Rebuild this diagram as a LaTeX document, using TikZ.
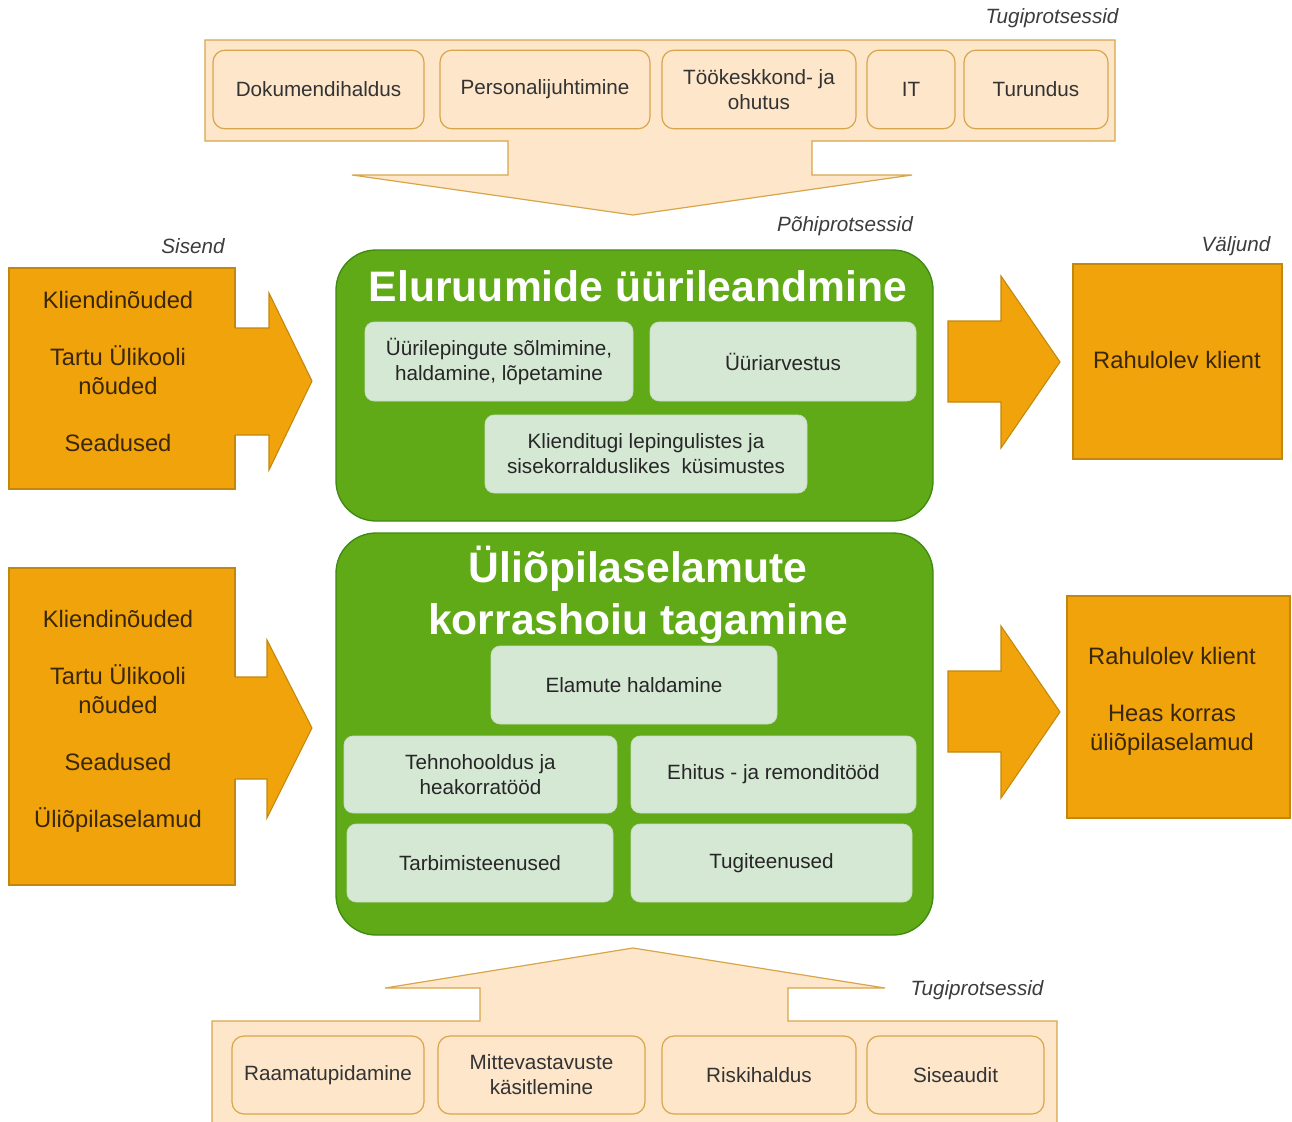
\documentclass[tikz,border=0pt]{standalone}
\usepackage{fontspec}
\setmainfont{Liberation Sans}
\usetikzlibrary{positioning,fit}

\definecolor{tugifill}{HTML}{FDE6C9}
\definecolor{tugirand}{HTML}{D8A64A}
\definecolor{orfill}{HTML}{F0A30A}
\definecolor{orrand}{HTML}{C4870E}
\definecolor{gruen}{HTML}{60A917}
\definecolor{gruenrand}{HTML}{3F8A12}
\definecolor{hellgruen}{HTML}{D5E8D4}
\definecolor{hellrand}{HTML}{C8DCC6}
\definecolor{orschrift}{HTML}{3A2608}
\definecolor{grau}{HTML}{3C3C3C}

\begin{document}
\begin{tikzpicture}[x=0.75pt,y=-0.75pt,
	tugi/.style={draw=tugirand,fill=tugifill,line width=0.9pt},
	tugibox/.style={draw=tugirand,fill=tugifill,rounded corners=9pt,inner sep=0pt,line width=0.9pt,
		minimum height=59pt,align=center,text=black!80,font=\fontsize{15.5}{18.75}\selectfont},
	orbox/.style={draw=orrand,fill=orfill,inner sep=0pt,line width=0.8pt},
	ortext/.style={align=center,text=orschrift,font=\fontsize{17.8}{21.75}\selectfont},
	prozess/.style={draw=gruenrand,fill=gruen,rounded corners=30pt,inner sep=0pt,line width=1pt},
	titel/.style={align=center,text=white,font=\bfseries\fontsize{32}{39}\selectfont},
	teil/.style={draw=hellrand,fill=hellgruen,rounded corners=7pt,inner sep=0pt,line width=0.6pt,
		minimum height=58.5pt,align=center,text=black!85,font=\fontsize{15.5}{18.75}\selectfont},
	etikett/.style={text=grau,font=\itshape\fontsize{15.5}{18}\selectfont}]

\useasboundingbox (0,0) rectangle (1292,1121);

%-------------------------------------------------------------------------------
% Tugiprotsessid - oben
%-------------------------------------------------------------------------------
\draw [tugi] (205,40) -- (1115,40) -- (1115,141) -- (812,141) -- (812,175) -- (912,175)
	-- (633,215) -- (352,175) -- (508,175) -- (508,141) -- (205,141) -- cycle;

\node (dokhaldus)	[tugibox, minimum width=158.25pt]	at (318.5,89.5)	{Dokumendihaldus};
\node (personal)	[tugibox, minimum width=157.5pt]	at (545,89.5)	{Personalijuhtimine};
\node (tookeskkond)	[tugibox, minimum width=145.5pt]	at (759,89.5)	{Töökeskkond- ja\\ohutus};
\node (it)		[tugibox, minimum width=66pt]		at (911,89.5)	{IT};
\node (turundus)	[tugibox, minimum width=108pt]		at (1036,89.5)	{Turundus};

\node (tugiobenlabel) [etikett] at (1052,18) {Tugiprotsessid};
\node (pohilabel) [etikett] at (845,226) {Põhiprotsessid};

%-------------------------------------------------------------------------------
% Eluruumide üürileandmine
%-------------------------------------------------------------------------------
\node (sisend1) [orbox, fit={(9,268) (235,489)}] {};
\node (sisend1text) [ortext] at (118,372) {Kliendinõuded\\[21pt]Tartu Ülikooli\\nõuded\\[21pt]Seadused};
\node (sisendlabel) [etikett] at (193,246) {Sisend};

\fill [orfill] (233,328) -- (269,328) -- (269,293) -- (312,381) -- (269,470) -- (269,435) -- (233,435) -- cycle;
\draw [orrand,line width=0.8pt] (235,328) -- (269,328) -- (269,293) -- (312,381) -- (269,470) -- (269,435) -- (235,435);

\node (eluruum) [prozess, fit={(336,250) (933,521)}] {};
\node (eluruumtitel) [titel] at (638,286) {Eluruumide üürileandmine};

\node (leping)		[teil, minimum width=201pt, minimum height=59.25pt]	at (499,361.5)	{Üürilepingute sõlmimine,\\haldamine, lõpetamine};
\node (arvestus)	[teil, minimum width=199.5pt, minimum height=59.25pt]	at (783,361.5)	{Üüriarvestus};
\node (klienditugi)	[teil, minimum width=241.5pt]				at (646,454)	{Klienditugi lepingulistes ja\\sisekorralduslikes\ \ küsimustes};

\draw [orrand,fill=orfill,line width=0.8pt] (948,321) -- (1001,321) -- (1001,276) -- (1060,362)
	-- (1001,448) -- (1001,402) -- (948,402) -- cycle;

\node (valjund1) [orbox, fit={(1073,264) (1282,459)}] {};
\node (valjund1text) [ortext] at (1177,360) {Rahulolev klient};
\node (valjundlabel) [etikett] at (1236,246) {Väljund};

%-------------------------------------------------------------------------------
% Üliõpilaselamute korrashoiu tagamine
%-------------------------------------------------------------------------------
\node (sisend2) [orbox, fit={(9,568) (235,885)}] {};
\node (sisend2text) [ortext] at (118,721) {Kliendinõuded\\[21pt]Tartu Ülikooli\\nõuded\\[21pt]Seadused\\[21pt]Üliõpilaselamud};

\fill [orfill] (233,677) -- (267,677) -- (267,640) -- (312,728) -- (267,818) -- (267,779) -- (233,779) -- cycle;
\draw [orrand,line width=0.8pt] (235,677) -- (267,677) -- (267,640) -- (312,728) -- (267,818) -- (267,779) -- (235,779);

\node (elamud) [prozess, fit={(336,533) (933,935)}] {};
\node (elamudtitel) [titel] at (638,595) {Üliõpilaselamute\\korrashoiu tagamine};

\node (haldamine)	[teil, minimum width=214.5pt]				at (634,685)	{Elamute haldamine};
\node (tehno)		[teil, minimum width=204.75pt, minimum height=57.75pt]	at (480.5,774.5)	{Tehnohooldus ja\\heakorratööd};
\node (ehitus)		[teil, minimum width=213.75pt, minimum height=57.75pt]	at (773.5,774.5)	{Ehitus - ja remonditööd};
\node (tarbimine)	[teil, minimum width=199.5pt]				at (480,863)	{Tarbimisteenused};
\node (tugiteenus)	[teil, minimum width=210.75pt]				at (771.5,863)	{Tugiteenused};

\draw [orrand,fill=orfill,line width=0.8pt] (948,671) -- (1001,671) -- (1001,626) -- (1060,712)
	-- (1001,798) -- (1001,752) -- (948,752) -- cycle;

\node (valjund2) [orbox, fit={(1067,596) (1290,818)}] {};
\node (valjund2text) [ortext] at (1172,701) {Rahulolev klient\\[21pt]Heas korras\\üliõpilaselamud};

%-------------------------------------------------------------------------------
% Tugiprotsessid - unten
%-------------------------------------------------------------------------------
\draw [tugi] (212,1135) -- (212,1021) -- (480,1021) -- (480,988) -- (385,988) -- (633,948)
	-- (885,988) -- (788,988) -- (788,1021) -- (1057,1021) -- (1057,1135);

\node (raamat)		[tugibox, minimum width=144pt, minimum height=58.5pt]	at (328,1075)	{Raamatupidamine};
\node (mittevast)	[tugibox, minimum width=155.25pt, minimum height=58.5pt]	at (541.5,1075)	{Mittevastavuste\\käsitlemine};
\node (risk)		[tugibox, minimum width=145.5pt, minimum height=58.5pt]	at (759,1075)	{Riskihaldus};
\node (siseaudit)	[tugibox, minimum width=132.75pt, minimum height=58.5pt]	at (955.5,1075)	{Siseaudit};

\node (tugiuntenlabel) [etikett] at (977,990) {Tugiprotsessid};
\end{tikzpicture}
\end{document}
